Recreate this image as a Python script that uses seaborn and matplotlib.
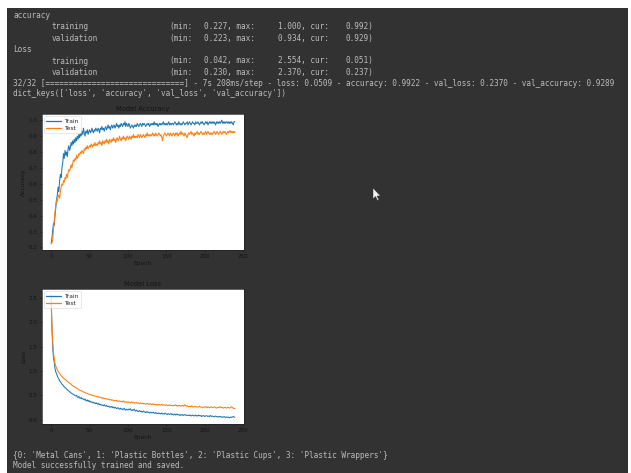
import matplotlib
matplotlib.use("Agg")
import matplotlib.pyplot as plt
from matplotlib.patches import Rectangle, Polygon
import seaborn as sns

# ---- training history (one value per epoch) ----
train_acc = [
    0.227, 0.26, 0.31, 0.35, 0.34, 0.40, 0.45, 0.50, 0.53, 0.58,
    0.55, 0.62, 0.66, 0.64, 0.70, 0.73, 0.79, 0.76, 0.81, 0.78,
    0.80, 0.77, 0.82, 0.84, 0.81, 0.83, 0.86, 0.84, 0.87, 0.85,
    0.88, 0.86, 0.89, 0.87, 0.90, 0.88, 0.91, 0.89, 0.92, 0.90,
    0.93, 0.91, 0.95, 0.92, 0.90, 0.93, 0.92, 0.94, 0.91, 0.93,
    0.94, 0.92, 0.93, 0.95, 0.93, 0.92, 0.94, 0.93, 0.95, 0.94,
    0.93, 0.95, 0.94, 0.92, 0.95, 0.94, 0.96, 0.94, 0.95, 0.93,
    0.95, 0.96, 0.94, 0.95, 0.97, 0.95, 0.96, 0.94, 0.96, 0.97,
    0.95, 0.96, 0.97, 0.95, 0.96, 0.98, 0.96, 0.97, 0.95, 0.97,
    0.96, 0.98, 0.97, 0.96, 0.98, 0.97, 0.99, 0.96, 0.98, 0.97,
    0.96, 0.98, 0.97, 0.95, 0.96, 0.97, 0.96, 0.95, 0.97, 0.96,
    0.97, 0.96, 0.98, 0.97, 0.96, 0.97, 0.98, 0.97, 0.96, 0.98,
    0.97, 0.98, 0.97, 0.96, 0.97, 0.98, 0.97, 0.98, 0.96, 0.97,
    0.98, 0.97, 0.98, 0.97, 0.99, 0.97, 0.98, 0.97, 0.98, 0.96,
    0.97, 0.98, 0.97, 0.98, 0.97, 0.98, 0.99, 0.97, 0.98, 0.97,
    0.98, 0.97, 0.98, 0.99, 0.97, 0.98, 0.97, 0.98, 0.98, 0.97,
    0.98, 0.99, 0.98, 0.97, 0.98, 0.97, 0.99, 0.98, 0.97, 0.98,
    0.97, 0.98, 0.99, 0.98, 0.97, 0.98, 0.98, 0.99, 0.97, 0.98,
    0.99, 0.98, 0.97, 0.98, 0.99, 0.98, 0.98, 0.97, 0.99, 0.98,
    0.98, 0.99, 0.98, 0.97, 0.98, 0.99, 0.98, 0.99, 0.98, 0.97,
    0.98, 0.99, 0.98, 0.99, 0.97, 0.98, 0.99, 0.98, 0.99, 0.98,
    0.99, 0.98, 0.99, 0.98, 0.97, 0.99, 0.98, 0.99, 0.98, 0.99,
    0.98, 0.99, 1.00, 0.98, 0.99, 0.98, 0.99, 0.98, 0.99, 0.99,
    0.98, 0.99, 0.98, 0.99, 0.98, 0.99, 0.98, 0.97, 0.99, 0.992,
]
val_acc = [
    0.223, 0.23, 0.25, 0.31, 0.37, 0.42, 0.47, 0.50, 0.49, 0.52,
    0.53, 0.51, 0.55, 0.58, 0.60, 0.59, 0.62, 0.61, 0.64, 0.63,
    0.66, 0.64, 0.67, 0.69, 0.68, 0.70, 0.72, 0.70, 0.73, 0.75,
    0.74, 0.76, 0.75, 0.78, 0.76, 0.77, 0.79, 0.78, 0.80, 0.79,
    0.81, 0.80, 0.79, 0.82, 0.81, 0.83, 0.82, 0.84, 0.82, 0.83,
    0.84, 0.83, 0.85, 0.84, 0.83, 0.85, 0.84, 0.86, 0.84, 0.85,
    0.84, 0.86, 0.85, 0.87, 0.85, 0.86, 0.84, 0.87, 0.86, 0.85,
    0.87, 0.86, 0.88, 0.86, 0.87, 0.85, 0.88, 0.87, 0.86, 0.88,
    0.87, 0.89, 0.87, 0.88, 0.86, 0.88, 0.89, 0.87, 0.88, 0.90,
    0.88, 0.87, 0.89, 0.88, 0.90, 0.88, 0.89, 0.87, 0.89, 0.90,
    0.89, 0.88, 0.90, 0.89, 0.88, 0.90, 0.89, 0.91, 0.89, 0.90,
    0.89, 0.90, 0.89, 0.91, 0.90, 0.89, 0.91, 0.90, 0.89, 0.90,
    0.91, 0.90, 0.89, 0.91, 0.90, 0.92, 0.90, 0.91, 0.90, 0.91,
    0.90, 0.91, 0.92, 0.90, 0.91, 0.90, 0.92, 0.91, 0.90, 0.91,
    0.92, 0.91, 0.90, 0.91, 0.89, 0.87, 0.90, 0.91, 0.92, 0.91,
    0.90, 0.91, 0.92, 0.91, 0.90, 0.92, 0.91, 0.90, 0.91, 0.92,
    0.91, 0.90, 0.92, 0.91, 0.92, 0.90, 0.91, 0.92, 0.91, 0.93,
    0.91, 0.92, 0.91, 0.90, 0.92, 0.91, 0.90, 0.89, 0.91, 0.92,
    0.91, 0.92, 0.93, 0.91, 0.92, 0.91, 0.90, 0.92, 0.91, 0.92,
    0.93, 0.91, 0.92, 0.91, 0.92, 0.93, 0.92, 0.91, 0.92, 0.91,
    0.92, 0.93, 0.91, 0.92, 0.93, 0.92, 0.91, 0.92, 0.91, 0.92,
    0.91, 0.92, 0.93, 0.92, 0.91, 0.92, 0.93, 0.92, 0.91, 0.92,
    0.93, 0.92, 0.91, 0.92, 0.93, 0.92, 0.93, 0.92, 0.91, 0.92,
    0.93, 0.92, 0.93, 0.934, 0.92, 0.93, 0.92, 0.93, 0.92, 0.929,
]
train_loss = [
    2.554, 1.85, 1.48, 1.27, 1.18, 1.05, 0.98, 0.95, 0.90, 0.86,
    0.84, 0.80, 0.78, 0.76, 0.73, 0.72, 0.69, 0.68, 0.66, 0.65,
    0.63, 0.62, 0.60, 0.59, 0.58, 0.56, 0.55, 0.54, 0.53, 0.52,
    0.51, 0.50, 0.49, 0.50, 0.47, 0.46, 0.48, 0.45, 0.44, 0.46,
    0.43, 0.44, 0.42, 0.41, 0.43, 0.40, 0.39, 0.41, 0.38, 0.40,
    0.37, 0.38, 0.36, 0.37, 0.35, 0.36, 0.34, 0.35, 0.33, 0.35,
    0.33, 0.32, 0.34, 0.31, 0.32, 0.30, 0.31, 0.30, 0.29, 0.31,
    0.29, 0.28, 0.30, 0.28, 0.27, 0.28, 0.26, 0.27, 0.26, 0.28,
    0.25, 0.26, 0.24, 0.26, 0.25, 0.23, 0.24, 0.25, 0.23, 0.22,
    0.24, 0.22, 0.23, 0.21, 0.22, 0.24, 0.21, 0.20, 0.22, 0.21,
    0.20, 0.22, 0.21, 0.23, 0.20, 0.19, 0.21, 0.20, 0.22, 0.19,
    0.18, 0.20, 0.19, 0.17, 0.18, 0.19, 0.17, 0.18, 0.16, 0.17,
    0.18, 0.16, 0.17, 0.15, 0.16, 0.17, 0.15, 0.16, 0.14, 0.15,
    0.16, 0.14, 0.15, 0.16, 0.14, 0.13, 0.15, 0.14, 0.13, 0.14,
    0.13, 0.14, 0.12, 0.13, 0.14, 0.12, 0.13, 0.12, 0.14, 0.13,
    0.12, 0.11, 0.13, 0.12, 0.11, 0.12, 0.13, 0.11, 0.12, 0.10,
    0.11, 0.12, 0.10, 0.11, 0.12, 0.10, 0.11, 0.10, 0.09, 0.11,
    0.10, 0.11, 0.09, 0.10, 0.11, 0.10, 0.09, 0.10, 0.09, 0.10,
    0.09, 0.10, 0.08, 0.09, 0.10, 0.09, 0.08, 0.09, 0.10, 0.08,
    0.09, 0.08, 0.10, 0.09, 0.08, 0.09, 0.07, 0.08, 0.09, 0.08,
    0.07, 0.08, 0.09, 0.08, 0.07, 0.08, 0.07, 0.09, 0.08, 0.07,
    0.08, 0.07, 0.06, 0.07, 0.08, 0.07, 0.06, 0.07, 0.06, 0.07,
    0.06, 0.07, 0.06, 0.05, 0.06, 0.07, 0.06, 0.05, 0.06, 0.05,
    0.06, 0.05, 0.042, 0.05, 0.06, 0.05, 0.06, 0.07, 0.06, 0.051,
]
val_loss = [
    2.370, 1.95, 1.60, 1.38, 1.25, 1.15, 1.10, 1.06, 1.02, 0.99,
    0.97, 0.95, 0.93, 0.90, 0.89, 0.87, 0.86, 0.84, 0.83, 0.82,
    0.80, 0.79, 0.78, 0.76, 0.75, 0.74, 0.73, 0.71, 0.70, 0.69,
    0.68, 0.67, 0.66, 0.65, 0.64, 0.63, 0.62, 0.61, 0.60, 0.60,
    0.59, 0.58, 0.57, 0.57, 0.56, 0.55, 0.55, 0.54, 0.53, 0.53,
    0.52, 0.52, 0.51, 0.51, 0.50, 0.50, 0.49, 0.49, 0.48, 0.48,
    0.47, 0.48, 0.46, 0.47, 0.46, 0.45, 0.46, 0.44, 0.45, 0.44,
    0.43, 0.44, 0.43, 0.42, 0.43, 0.42, 0.41, 0.42, 0.41, 0.40,
    0.41, 0.40, 0.39, 0.40, 0.39, 0.40, 0.38, 0.39, 0.38, 0.39,
    0.38, 0.37, 0.38, 0.37, 0.39, 0.37, 0.36, 0.37, 0.36, 0.37,
    0.36, 0.37, 0.36, 0.35, 0.36, 0.37, 0.35, 0.36, 0.35, 0.34,
    0.35, 0.36, 0.34, 0.35, 0.34, 0.33, 0.35, 0.34, 0.33, 0.34,
    0.33, 0.34, 0.33, 0.32, 0.33, 0.34, 0.32, 0.33, 0.32, 0.33,
    0.32, 0.31, 0.33, 0.32, 0.31, 0.32, 0.31, 0.32, 0.30, 0.31,
    0.32, 0.31, 0.30, 0.31, 0.32, 0.30, 0.31, 0.30, 0.31, 0.30,
    0.31, 0.30, 0.29, 0.30, 0.31, 0.30, 0.29, 0.30, 0.29, 0.30,
    0.29, 0.30, 0.31, 0.29, 0.30, 0.28, 0.29, 0.30, 0.29, 0.28,
    0.29, 0.30, 0.28, 0.29, 0.31, 0.29, 0.28, 0.29, 0.28, 0.27,
    0.28, 0.27, 0.28, 0.29, 0.27, 0.26, 0.27, 0.28, 0.27, 0.26,
    0.27, 0.26, 0.27, 0.28, 0.26, 0.27, 0.26, 0.25, 0.26, 0.27,
    0.26, 0.27, 0.26, 0.25, 0.27, 0.26, 0.25, 0.26, 0.27, 0.26,
    0.25, 0.26, 0.27, 0.26, 0.25, 0.24, 0.25, 0.26, 0.25, 0.26,
    0.27, 0.25, 0.26, 0.25, 0.24, 0.25, 0.26, 0.25, 0.24, 0.25,
    0.26, 0.25, 0.24, 0.25, 0.26, 0.27, 0.25, 0.24, 0.230, 0.237,
]
epochs = list(range(len(train_acc)))

series_labels = ["Train", "Test"]

# ---- console text printed around the plots ----
summary_rows = [
    ("accuracy", None),
    ("training", ("0.227", "1.000", "0.992")),
    ("validation", ("0.223", "0.934", "0.929")),
    ("Loss", None),
    ("training", ("0.042", "2.554", "0.051")),
    ("validation", ("0.230", "2.370", "0.237")),
]
progress_line = ("32/32 [==============================] - 7s 208ms/step - loss: 0.0509"
                 " - accuracy: 0.9922 - val_loss: 0.2370 - val_accuracy: 0.9289")
keys_line = "dict_keys(['loss', 'accuracy', 'val_loss', 'val_accuracy'])"
class_line = "{0: 'Metal Cans', 1: 'Plastic Bottles', 2: 'Plastic Cups', 3: 'Plastic Wrappers'}"
saved_line = "Model successfully trained and saved."

W, H = 631, 473
BG = "#323232"
CONSOLE = "#bcbcbc"
INK = "#141414"

sns.set_style("ticks")
plt.rcParams["font.family"] = ["DejaVu Sans"]

fig = plt.figure(figsize=(W / 100, H / 100), dpi=100)
fig.patch.set_facecolor("white")


def fx(px):
    return px / W


def fy(py):
    return 1 - py / H


# dark output cell
fig.add_artist(Rectangle((fx(7), 0), fx(628) - fx(7), fy(8), transform=fig.transFigure,
                         facecolor=BG, edgecolor="none", zorder=0))

mono = dict(family="DejaVu Sans Mono", fontsize=5.62, color=CONSOLE, va="center", ha="left")

row_y = [15, 26.7, 38.3, 50, 61, 72.3]
for (name, stats), y in zip(summary_rows, row_y):
    if stats is None:
        fig.text(fx(13), fy(y), name, **mono)
    else:
        fig.text(fx(52), fy(y), name, **mono)
        fig.text(fx(169), fy(y), "(min:", **mono)
        fig.text(fx(204), fy(y), f"{stats[0]}, max:", **mono)
        fig.text(fx(278), fy(y), f"{stats[1]}, cur:", **mono)
        fig.text(fx(345), fy(y), f"{stats[2]})", **mono)

fig.text(fx(13), fy(83), progress_line, **mono)
fig.text(fx(13), fy(94), keys_line, **mono)
fig.text(fx(13), fy(455), class_line, **mono)
fig.text(fx(13), fy(465.5), saved_line, **mono)


def make_axes(left, top, right, bottom):
    return fig.add_axes([fx(left), fy(bottom), fx(right) - fx(left), (bottom - top) / H])


ax_acc = make_axes(42, 114, 244, 250)
ax_loss = make_axes(42, 289, 244, 424)

panels = [
    (ax_acc, train_acc, val_acc, "Model Accuracy", "Accuracy"),
    (ax_loss, train_loss, val_loss, "Model Loss", "Loss"),
]
for ax, tr, va, title, ylabel in panels:
    ax.set_facecolor("white")
    sns.lineplot(x=epochs, y=tr, ax=ax, color="#1f77b4", linewidth=0.75, label=series_labels[0])
    sns.lineplot(x=epochs, y=va, ax=ax, color="#ff7f0e", linewidth=0.75, label=series_labels[1])
    ax.set_title(title, fontsize=4.9, color=INK, pad=2.5)
    ax.set_xlabel("Epoch", fontsize=4.3, color=INK, labelpad=1.5)
    ax.set_ylabel(ylabel, fontsize=4.3, color=INK, labelpad=2)
    ax.set_xticks([0, 50, 100, 150, 200, 250])
    ax.tick_params(labelsize=4.1, length=1.6, width=0.4, pad=1.5, colors=INK)
    for s in ax.spines.values():
        s.set_linewidth(0.5)
        s.set_color("#222222")
    leg = ax.legend(loc="upper left", fontsize=4.3, frameon=True, handlelength=2.4,
                    borderpad=0.35, labelspacing=0.3, handletextpad=0.6, borderaxespad=0.4)
    leg.get_frame().set_linewidth(0.4)
    leg.get_frame().set_edgecolor("#cccccc")
    for line in leg.get_lines():
        line.set_linewidth(0.9)

ax_acc.set_yticks([0.2, 0.3, 0.4, 0.5, 0.6, 0.7, 0.8, 0.9, 1.0])
ax_loss.set_yticks([0.0, 0.5, 1.0, 1.5, 2.0, 2.5])

# mouse pointer resting over the output
cursor = [(373, 188), (373, 199), (375.5, 196.5), (377.5, 200.5), (379, 199.8),
          (377, 196), (380.5, 196)]
fig.add_artist(Polygon([(fx(x), fy(y)) for x, y in cursor], closed=True,
                       transform=fig.transFigure, facecolor="#f2f2f2",
                       edgecolor="#202020", linewidth=0.3, zorder=5))

fig.savefig("out.png", dpi=100)
